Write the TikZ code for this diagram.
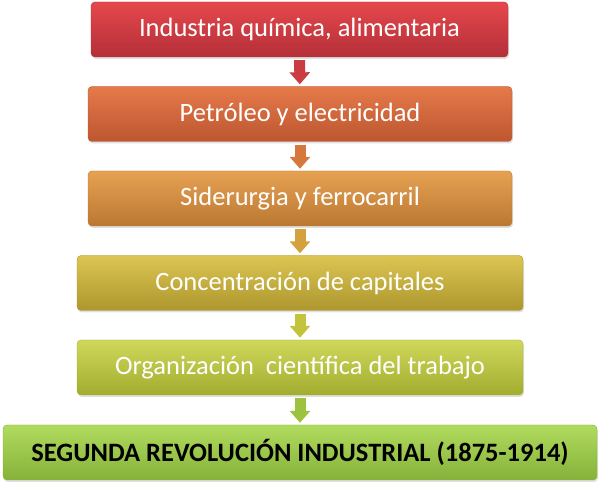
\documentclass[tikz,border=0pt]{standalone}
\usepackage{fontspec}
\setmainfont{Carlito}
\usepackage{tikz}
\usetikzlibrary{shadows}
\usetikzlibrary{arrows.meta}
\definecolor{redtop}{HTML}{E5484C}
\definecolor{redbot}{HTML}{B42F38}
\definecolor{rusttop}{HTML}{E57A4A}
\definecolor{rustbot}{HTML}{BD5630}
\definecolor{orangetop}{HTML}{E6A152}
\definecolor{orangebot}{HTML}{BB7832}
\definecolor{ochretop}{HTML}{DCC552}
\definecolor{ochrebot}{HTML}{AD972E}
\definecolor{limetop}{HTML}{CFD85A}
\definecolor{limebot}{HTML}{A2AC2E}
\definecolor{greentop}{HTML}{B0DB5E}
\definecolor{greenbot}{HTML}{86B23A}
\definecolor{redarrow}{HTML}{CB3C42}
\definecolor{rustarrow}{HTML}{D6773E}
\definecolor{orangearrow}{HTML}{D3A23E}
\definecolor{ochrearrow}{HTML}{C2C43C}
\definecolor{limearrow}{HTML}{9CC23E}

\begin{document}
\begin{tikzpicture}[x=1pt,y=1pt,
stage/.style={minimum height=55pt,inner sep=0pt,rounded corners=4pt,draw=#1bot,
  top color=#1top,bottom color=#1bot,text=white,font=\fontsize{26.5}{30}\selectfont,
  drop shadow={shadow xshift=1pt,shadow yshift=-2pt,opacity=0.25}},
result/.style={stage=#1,text=black,font=\bfseries\fontsize{26.5}{30}\selectfont},
arrow/.style={line width=11pt,draw=#1,-{Triangle[width=20pt,length=12pt]},
  shorten <=3pt,shorten >=2pt}
]
\useasboundingbox (0,0) rectangle (600,486);
\node[stage=red,minimum width=417pt] (quimica) at (299.5,456.5) {Industria química, alimentaria};
\node[stage=rust,minimum width=424pt] (petroleo) at (300,372) {Petróleo y electricidad};
\node[stage=orange,minimum width=424pt] (siderurgia) at (300,287.5) {Siderurgia y ferrocarril};
\node[stage=ochre,minimum width=446pt] (capitales) at (300,203) {Concentración de capitales};
\node[stage=lime,minimum width=446pt] (trabajo) at (300,118.5) {Organización~ científica del trabajo};
\node[result=green,minimum width=594pt] (revolucion) at (300,33.5) {SEGUNDA REVOLUCIÓN INDUSTRIAL (1875-1914)};
\path[arrow=redarrow] (quimica) -- (petroleo);
\path[arrow=rustarrow] (petroleo) -- (siderurgia);
\path[arrow=orangearrow] (siderurgia) -- (capitales);
\path[arrow=ochrearrow] (capitales) -- (trabajo);
\path[arrow=limearrow] (trabajo) -- (revolucion);
\end{tikzpicture}
\end{document}
